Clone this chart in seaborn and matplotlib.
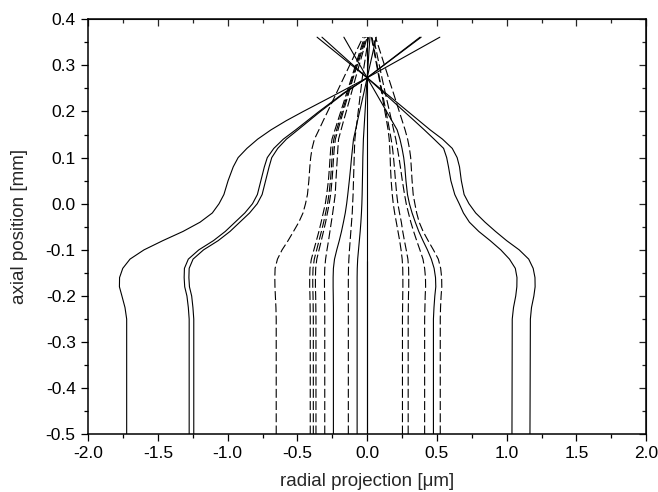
import seaborn as sns
import numpy as np
import pandas as pd
import matplotlib
matplotlib.use("Agg")
import matplotlib.pyplot as plt
from matplotlib.ticker import MultipleLocator, FormatStrFormatter

# axial sampling positions [mm] shared by all traced rays
axial = [-0.50, -0.25, -0.225, -0.20, -0.18, -0.16, -0.14, -0.12, -0.10, -0.08,
         -0.06, -0.04, -0.02, 0.00, 0.02, 0.05, 0.08, 0.10, 0.12, 0.14,
         0.16, 0.18, 0.20, 0.24, 0.273, 0.361]

# radial projection [um] of each ray at the axial positions above
ray_a = [-1.724, -1.724, -1.736, -1.758, -1.776, -1.775, -1.752, -1.700, -1.600, -1.465,
         -1.320, -1.198, -1.110, -1.062, -1.027, -0.997, -0.960, -0.925, -0.862, -0.785,
         -0.690, -0.580, -0.458, -0.205, 0.0, 0.521]
ray_b = [-1.276, -1.276, -1.282, -1.292, -1.308, -1.312, -1.310, -1.282, -1.207, -1.102,
         -1.017, -0.947, -0.877, -0.822, -0.787, -0.762, -0.737, -0.716, -0.669, -0.601,
         -0.513, -0.429, -0.345, -0.168, 0.0, 0.387]
ray_c = [-1.243, -1.243, -1.249, -1.258, -1.274, -1.278, -1.276, -1.248, -1.173, -1.068,
         -0.983, -0.913, -0.843, -0.788, -0.753, -0.728, -0.703, -0.684, -0.641, -0.579,
         -0.497, -0.416, -0.335, -0.162, 0.0, 0.379]
ray_d = [-0.652, -0.652, -0.654, -0.658, -0.661, -0.662, -0.660, -0.643, -0.610, -0.567,
         -0.528, -0.490, -0.460, -0.442, -0.428, -0.418, -0.411, -0.405, -0.395, -0.378,
         -0.346, -0.315, -0.283, -0.220, -0.168, -0.030]
ray_e = [-0.408, -0.408, -0.409, -0.410, -0.412, -0.412, -0.410, -0.400, -0.382, -0.364,
         -0.346, -0.330, -0.315, -0.300, -0.290, -0.278, -0.270, -0.266, -0.261, -0.252,
         -0.231, -0.210, -0.189, -0.147, -0.112, -0.020]
ray_f = [-0.386, -0.386, -0.387, -0.388, -0.390, -0.390, -0.388, -0.379, -0.362, -0.345,
         -0.328, -0.312, -0.298, -0.284, -0.274, -0.263, -0.256, -0.252, -0.247, -0.239,
         -0.219, -0.199, -0.179, -0.139, -0.106, -0.012]
ray_g = [-0.367, -0.367, -0.368, -0.369, -0.371, -0.371, -0.369, -0.361, -0.345, -0.329,
         -0.313, -0.298, -0.285, -0.272, -0.262, -0.252, -0.245, -0.241, -0.236, -0.228,
         -0.209, -0.190, -0.171, -0.132, -0.100, -0.005]
ray_h = [-0.304, -0.304, -0.304, -0.305, -0.306, -0.306, -0.304, -0.298, -0.288, -0.277,
         -0.267, -0.257, -0.247, -0.238, -0.229, -0.224, -0.218, -0.214, -0.210, -0.205,
         -0.187, -0.169, -0.150, -0.113, -0.083, 0.0]
ray_i = [-0.242, -0.242, -0.242, -0.243, -0.244, -0.244, -0.242, -0.234, -0.218, -0.200,
         -0.184, -0.170, -0.157, -0.147, -0.139, -0.128, -0.118, -0.112, -0.105, -0.098,
         -0.083, -0.069, -0.054, -0.024, 0.0, 0.065]
ray_j = [-0.135, -0.135, -0.135, -0.135, -0.135, -0.135, -0.134, -0.131, -0.127, -0.122,
         -0.117, -0.112, -0.107, -0.104, -0.101, -0.098, -0.095, -0.093, -0.091, -0.088,
         -0.080, -0.072, -0.064, -0.048, -0.035, 0.010]
ray_k = [-0.072, -0.072, -0.072, -0.072, -0.072, -0.072, -0.071, -0.068, -0.062, -0.056,
         -0.050, -0.045, -0.041, -0.038, -0.036, -0.034, -0.032, -0.031, -0.029, -0.027,
         -0.023, -0.019, -0.015, -0.007, 0.0, 0.020]
ray_l = [0.0] * len(axial)
ray_m = [0.253, 0.253, 0.254, 0.255, 0.256, 0.256, 0.255, 0.251, 0.243, 0.233,
         0.221, 0.209, 0.197, 0.187, 0.180, 0.172, 0.167, 0.165, 0.162, 0.158,
         0.150, 0.139, 0.127, 0.104, 0.085, 0.030]
ray_n = [0.294, 0.294, 0.295, 0.296, 0.298, 0.298, 0.297, 0.292, 0.280, 0.267,
         0.255, 0.245, 0.232, 0.220, 0.212, 0.203, 0.195, 0.189, 0.182, 0.172,
         0.160, 0.148, 0.135, 0.109, 0.088, 0.035]
ray_o = [0.412, 0.412, 0.414, 0.416, 0.419, 0.418, 0.412, 0.400, 0.378, 0.355,
         0.333, 0.313, 0.296, 0.280, 0.268, 0.252, 0.238, 0.228, 0.217, 0.205,
         0.190, 0.175, 0.160, 0.130, 0.106, 0.045]
ray_p = [0.475, 0.475, 0.479, 0.485, 0.492, 0.490, 0.480, 0.460, 0.432, 0.400,
         0.370, 0.345, 0.322, 0.303, 0.289, 0.278, 0.270, 0.262, 0.250, 0.235,
         0.215, 0.177, 0.139, 0.063, 0.0, -0.167]
ray_q = [0.524, 0.524, 0.526, 0.530, 0.535, 0.534, 0.527, 0.510, 0.475, 0.437,
         0.401, 0.373, 0.355, 0.342, 0.330, 0.322, 0.316, 0.312, 0.303, 0.290,
         0.272, 0.251, 0.230, 0.188, 0.153, 0.060]
ray_r = [1.038, 1.040, 1.049, 1.065, 1.073, 1.074, 1.062, 1.020, 0.958, 0.882,
         0.800, 0.733, 0.690, 0.660, 0.628, 0.600, 0.583, 0.570, 0.548, 0.480,
         0.410, 0.338, 0.265, 0.120, 0.0, -0.324]
ray_s = [1.167, 1.170, 1.178, 1.195, 1.204, 1.203, 1.190, 1.158, 1.090, 1.000,
         0.920, 0.845, 0.778, 0.730, 0.695, 0.675, 0.662, 0.645, 0.610, 0.540,
         0.452, 0.372, 0.292, 0.132, 0.0, -0.359]

# short on-axis ray (overlaps the axis ray near the bottom)
axis_stub_y = [-0.50, -0.125]
axis_stub_x = [0.0, 0.0]

solid_rays = [ray_a, ray_b, ray_c, ray_i, ray_k, ray_l, ray_p, ray_r, ray_s]
dashed_rays = [ray_d, ray_e, ray_f, ray_g, ray_h, ray_j, ray_m, ray_n, ray_o, ray_q]

rows = []
for n, r in enumerate(solid_rays):
    for y, x in zip(axial, r):
        rows.append(("s%d" % n, "solid", x, y))
for n, r in enumerate(dashed_rays):
    for y, x in zip(axial, r):
        rows.append(("d%d" % n, "dashed", x, y))
for y, x in zip(axis_stub_y, axis_stub_x):
    rows.append(("stub", "solid", x, y))
df = pd.DataFrame(rows, columns=["ray", "kind", "radial", "axial"])

sns.set_style("ticks")
plt.rcParams["font.family"] = ["Liberation Sans", "DejaVu Sans"]

fig = plt.figure(figsize=(6.58, 4.92), dpi=100)
ax = fig.add_axes([0.134, 0.117, 0.848, 0.844])

sns.lineplot(data=df, x="radial", y="axial", units="ray", estimator=None,
             sort=False, style="kind", dashes={"solid": "", "dashed": (8, 3)},
             color="black", linewidth=0.8, legend=False, ax=ax)

ax.set_xlim(-2.0, 2.0)
ax.set_ylim(-0.5, 0.4)
ax.xaxis.set_major_locator(MultipleLocator(0.5))
ax.xaxis.set_minor_locator(MultipleLocator(0.25))
ax.yaxis.set_major_locator(MultipleLocator(0.1))
ax.yaxis.set_minor_locator(MultipleLocator(0.05))
ax.xaxis.set_major_formatter(FormatStrFormatter("%.1f"))
ax.yaxis.set_major_formatter(FormatStrFormatter("%.1f"))

for s in ax.spines.values():
    s.set_linewidth(1.1)
    s.set_color("black")
ax.tick_params(which="both", direction="out", width=0.9, colors="black",
               labelsize=12.5)
ax.tick_params(axis="x", pad=3)
ax.tick_params(axis="y", pad=4)
ax.tick_params(which="major", length=5)
ax.tick_params(which="minor", length=3)

# mirrored ticks on top and right pointing inward
top = ax.secondary_xaxis("top")
top.xaxis.set_major_locator(MultipleLocator(0.5))
top.xaxis.set_minor_locator(MultipleLocator(0.25))
top.tick_params(which="both", direction="in", width=0.9, labeltop=False)
top.tick_params(which="major", length=5)
top.tick_params(which="minor", length=3)
right = ax.secondary_yaxis("right")
right.yaxis.set_major_locator(MultipleLocator(0.1))
right.yaxis.set_minor_locator(MultipleLocator(0.05))
right.tick_params(which="both", direction="in", width=0.9, labelright=False)
right.tick_params(which="major", length=5)
right.tick_params(which="minor", length=3)

ax.set_xlabel("radial projection [\u03bcm]", fontsize=13.5, labelpad=9)
ax.set_ylabel("axial position [mm]", fontsize=13.5, labelpad=13)

fig.savefig("out.png", dpi=100)
